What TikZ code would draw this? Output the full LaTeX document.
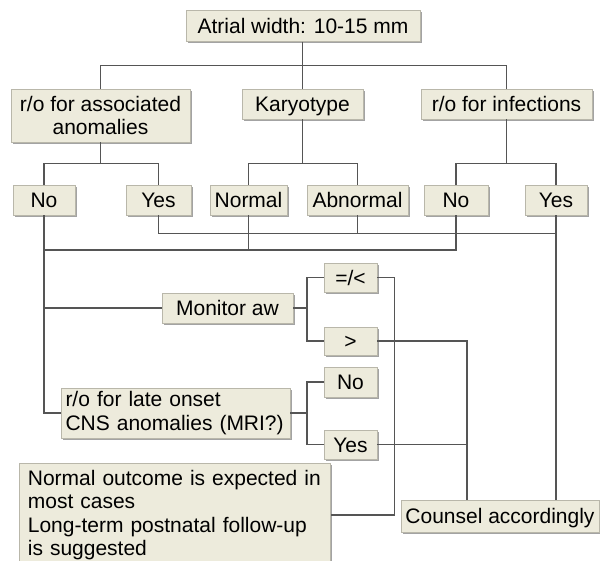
\documentclass[tikz,border=0pt]{standalone}
\usepackage{fontspec}
\setmainfont{Liberation Sans}
\usetikzlibrary{shadows,calc}
\definecolor{boxfill}{RGB}{237,235,220}
\definecolor{boxline}{RGB}{185,183,170}
\definecolor{wire}{RGB}{85,85,85}
\begin{document}
\begin{tikzpicture}[x=1pt,y=-1pt,
 box/.style={draw=boxline, line width=0.7pt, fill=boxfill, inner sep=0pt,
   font=\fontsize{21}{23.4}\selectfont,
   drop shadow={shadow xshift=1.8pt,shadow yshift=-1.8pt,fill=black!45,opacity=0.8}},
 one/.style={box, text height=15.2pt, text depth=0pt},
 conn/.style={draw=wire, line width=1.4pt}]
\useasboundingbox (0,0) rectangle (600,561);
% boxes
\node[one, minimum width=234pt, minimum height=31pt] (top) at (303,25.8) {Atrial width: 10-15 mm};
\node[box, minimum width=179pt, minimum height=53pt, align=center] (assoc) at (100.5,115.5) {r/o for associated\\anomalies};
\node[one, minimum width=121pt, minimum height=30pt] (karyo) at (302.5,104) {Karyotype};
\node[one, minimum width=171pt, minimum height=30pt] (infect) at (506.5,104) {r/o for infections};
\node[one, minimum width=62pt, minimum height=30pt] (no1) at (44,200) {No};
\node[one, minimum width=65pt, minimum height=30pt] (yes1) at (158.5,200) {Yes};
\node[one, minimum width=77pt, minimum height=30pt] (normal) at (248.5,200) {Normal};
\node[one, minimum width=101pt, minimum height=30pt] (abnormal) at (357.5,200) {Abnormal};
\node[one, minimum width=64pt, minimum height=30pt] (no2) at (456,200) {No};
\node[one, minimum width=62pt, minimum height=30pt] (yes2) at (556,200) {Yes};
\node[one, minimum width=53pt, minimum height=29pt] (eqlt) at (350.5,277.5) {=/<};
\node[one, minimum width=131pt, minimum height=30pt] (monitor) at (227.5,308) {Monitor aw};
\node[one, minimum width=53pt, minimum height=28pt] (gt) at (350.5,341) {>};
\node[one, minimum width=53pt, minimum height=30pt] (no3) at (350.5,382) {No};
\node[box, minimum height=50pt, text width=220pt, inner xsep=4.5pt, align=left] (late) at (175.5,413) {r/o for late onset\\CNS anomalies (MRI?)};
\node[one, minimum width=53pt, minimum height=29pt] (yes3) at (350.5,444.5) {Yes};
\node[box, anchor=north west, text width=294pt, inner xsep=8.5pt, inner ysep=7pt, align=left, text depth=100pt] (outcome) at (19,463) {Normal outcome is expected in\\most cases\\Long-term postnatal follow-up\\is suggested};
\node[one, minimum width=198pt, minimum height=32pt] (counsel) at (500,516) {Counsel accordingly};
% connectors
\coordinate (j1) at (302.5,65.7);
\draw[conn] (top.south -| j1) -- (j1);
\draw[conn] (assoc.north) |- (j1) -| (infect.north);
\draw[conn] (j1) -- (karyo.north);
\coordinate (j2) at (100.5,163.3);
\draw[conn] (assoc.south) -- (j2);
\draw[conn] (no1.north) |- (j2) -| (yes1.north);
\coordinate (j3) at (302.5,163.3);
\draw[conn] (karyo.south) -- (j3);
\draw[conn] (normal.north) |- (j3) -| (abnormal.north);
\coordinate (j4) at (506.5,163.3);
\draw[conn] (infect.south) -- (j4);
\draw[conn] (no2.north) |- (j4) -| (yes2.north);
\coordinate (busA) at (0,233.3);
\draw[conn] (yes1.south) |- (busA -| yes2.south);
\draw[conn] (abnormal.south) -- (abnormal.south |- busA);
\draw[conn] (yes2.south) -- (yes2.south |- counsel.north);
\coordinate (busB) at (0,250);
\draw[conn] (no2.south) |- (busB -| no1.south);
\draw[conn] (normal.south) -- (normal.south |- busB);
\draw[conn] (no1.south) |- (late.west);
\draw[conn] (no1.south |- monitor.west) -- (monitor.west);
\draw[conn] (monitor.east) -- ++(15,0);
\draw[conn] (eqlt.west) -- ++(-16.5,0) |- (gt.west);
\draw[conn] (late.east) -- ++(18,0);
\draw[conn] (no3.west) -- ++(-16.5,0) |- (yes3.west);
\coordinate (cx) at (467,0);
\draw[conn] (gt.east) -| (counsel.north -| cx);
\draw[conn] (yes3.east) -- (yes3.east -| cx);
\coordinate (oc) at ($(outcome.north east)+(0,52)$);
\draw[conn] (eqlt.east) -- ++(17,0) |- (oc);
\end{tikzpicture}
\end{document}
